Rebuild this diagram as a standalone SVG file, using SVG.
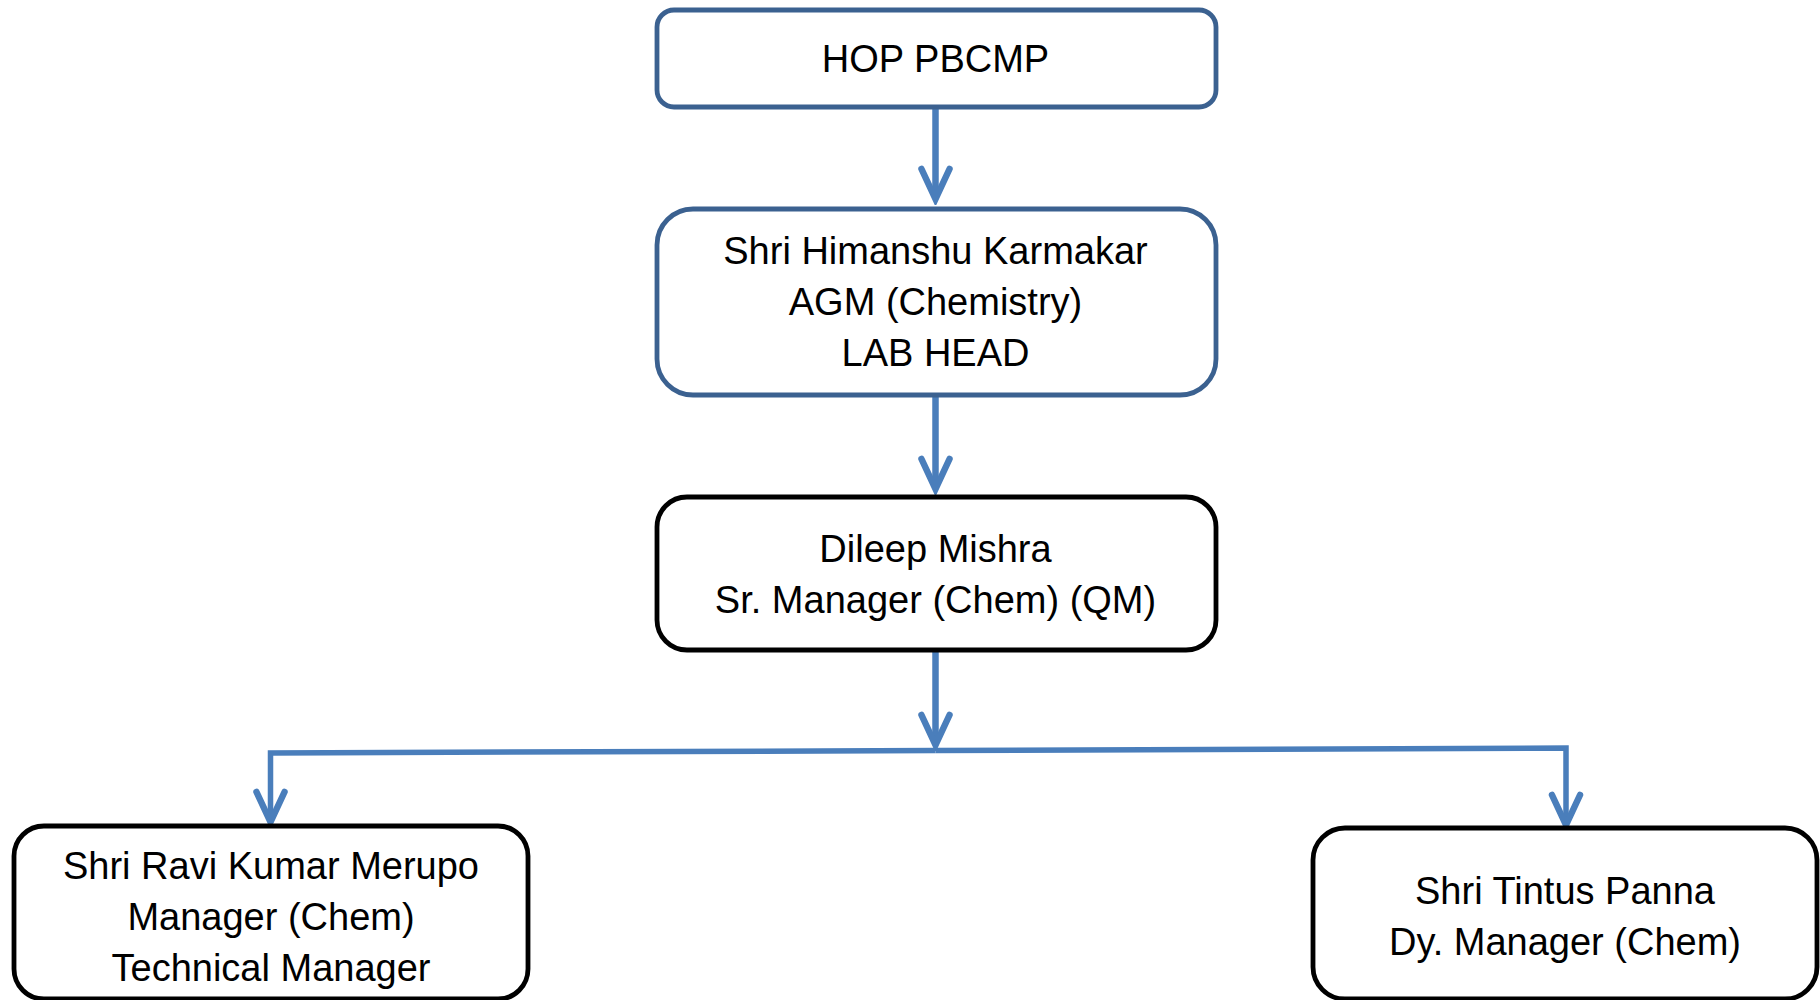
<svg xmlns="http://www.w3.org/2000/svg" width="1820" height="1000" viewBox="0 0 1820 1000">
<style>
.box{fill:#ffffff;stroke-width:4.8}
.blue{stroke:#3B6190}
.black{stroke:#000000}
.t{font-family:"Liberation Sans",Arial,sans-serif;font-size:38px;fill:#000000;text-anchor:middle}
.con{fill:none;stroke:#4A7EBB;stroke-width:6.5}
.br{fill:none;stroke:#4A7EBB;stroke-width:5.5}
</style>
<defs>
<marker id="chev" viewBox="-36 -20 42 40" markerWidth="42" markerHeight="40" refX="0" refY="0" orient="auto" markerUnits="userSpaceOnUse">
<path d="M -30 -14 L 0 0 L -30 14" fill="none" stroke="#4A7EBB" stroke-width="6.5" stroke-linecap="round" stroke-linejoin="miter"/>
</marker>
</defs>
<rect width="1820" height="1000" fill="#ffffff"/>
<g id="connectors">
<path class="con" d="M 935.5 107 L 935.5 199" marker-end="url(#chev)"/>
<path class="con" d="M 935.5 395 L 935.5 489" marker-end="url(#chev)"/>
<path class="con" d="M 935.5 650 L 935.5 745" marker-end="url(#chev)"/>
<path class="br" d="M 935.5 750.5 L 270.5 753 L 270.5 822" marker-end="url(#chev)"/>
<path class="br" d="M 935.5 750.5 L 1566 748 L 1566 825" marker-end="url(#chev)"/>
</g>
<g id="node-hop">
<rect class="box blue" x="657" y="10" width="559" height="97" rx="17"/>
<text class="t" x="935.5" y="72">HOP PBCMP</text>
</g>
<g id="node-himanshu">
<rect class="box blue" x="657" y="209" width="559" height="186" rx="36"/>
<text class="t" x="935.5" y="264">Shri Himanshu Karmakar</text>
<text class="t" x="935.5" y="315">AGM (Chemistry)</text>
<text class="t" x="935.5" y="366">LAB HEAD</text>
</g>
<g id="node-dileep">
<rect class="box black" x="657" y="497" width="559" height="153" rx="30"/>
<text class="t" x="935.5" y="562">Dileep Mishra</text>
<text class="t" x="935.5" y="613">Sr. Manager (Chem) (QM)</text>
</g>
<g id="node-ravi">
<rect class="box black" x="14" y="826" width="514" height="173" rx="30"/>
<text class="t" x="271" y="879">Shri Ravi Kumar Merupo</text>
<text class="t" x="271" y="930">Manager (Chem)</text>
<text class="t" x="271" y="981">Technical Manager</text>
</g>
<g id="node-tintus">
<rect class="box black" x="1313" y="828" width="504" height="171" rx="32"/>
<text class="t" x="1565" y="904">Shri Tintus Panna</text>
<text class="t" x="1565" y="955">Dy. Manager (Chem)</text>
</g>
</svg>
